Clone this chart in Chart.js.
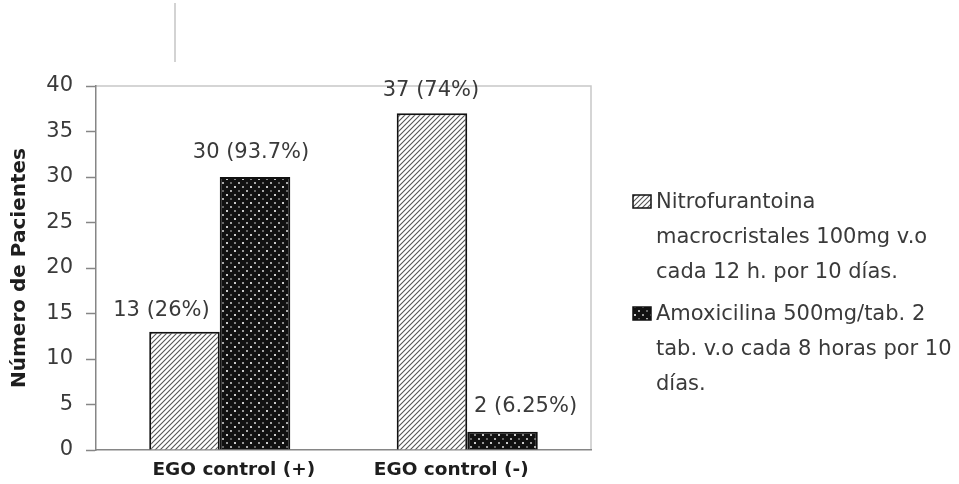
<!DOCTYPE html>
<html>
<head>
<meta charset="utf-8">
<script src="https://cdn.jsdelivr.net/npm/chart.js@4"></script>
<style>
    html, body { margin: 0; padding: 0; background: #fff; }
</style>
</head>
<body>
<canvas id="chart" width="959" height="484"></canvas>
<script>
// ================= DATA =================
const categories = ["EGO control (+)", "EGO control (-)"];
const nitrofurantoina = [13, 37];
const amoxicilina = [30, 2];
const nitroLabels = ["13 (26%)", "37 (74%)"];
const amoxLabels = ["30 (93.7%)", "2 (6.25%)"];
const nitroLegend = ["Nitrofurantoina", "macrocristales 100mg v.o", "cada 12 h. por 10 días."];
const amoxLegend = ["Amoxicilina 500mg/tab. 2", "tab. v.o cada 8 horas por 10", "días."];
const yTicks = [0, 5, 10, 15, 20, 25, 30, 35, 40];
const yTitle = "Número de Pacientes";

const FONT = "'DejaVu Sans', sans-serif";
const TEXT = "#3a3a3a";

// ================= PATTERNS =================
function hatchPattern() {
    const c = document.createElement("canvas");
    c.width = 5; c.height = 5;
    const g = c.getContext("2d");
    g.fillStyle = "#fff";
    g.fillRect(0, 0, 5, 5);
    g.strokeStyle = "#555";
    g.lineWidth = 1.1;
    g.beginPath();
    g.moveTo(-1, 6); g.lineTo(6, -1);
    g.moveTo(-1, 1); g.lineTo(1, -1);
    g.moveTo(4, 6); g.lineTo(6, 4);
    g.stroke();
    return g.createPattern(c, "repeat");
}

function dotPattern() {
    const c = document.createElement("canvas");
    c.width = 16; c.height = 16;
    const g = c.getContext("2d");
    g.fillStyle = "#111";
    g.fillRect(0, 0, 16, 16);
    const dots = [[2, 2, "#ccc"], [10, 2, "#888"], [6, 6, "#666"], [14, 6, "#aaa"],
                  [2, 10, "#999"], [10, 10, "#ccc"], [6, 14, "#aaa"], [14, 14, "#666"]];
    dots.forEach(d => { g.fillStyle = d[2]; g.fillRect(d[0], d[1], 2, 2); });
    return g.createPattern(c, "repeat");
}

const hatch = hatchPattern();
const dots = dotPattern();

// ================= PLUGINS =================
const frame = {
    id: "frame",
    beforeDraw(chart) {
        const { ctx, chartArea: a } = chart;
        ctx.save();
        ctx.strokeStyle = "#c8c8c8";
        ctx.lineWidth = 1.5;
        ctx.beginPath();
        ctx.moveTo(a.left, a.top);
        ctx.lineTo(a.right, a.top);
        ctx.lineTo(a.right, a.bottom);
        ctx.stroke();
        // stray line at the top of the scan
        ctx.strokeStyle = "#c4c4c4";
        ctx.beginPath();
        ctx.moveTo(175, 3);
        ctx.lineTo(175, 62);
        ctx.stroke();
        ctx.restore();
    }
};

const labelOffsets = [[[-23, 21], [-1, 23]], [[-4, 24], [23, 25]]];

const barLabels = {
    id: "barLabels",
    afterDatasetsDraw(chart) {
        const ctx = chart.ctx;
        const texts = [nitroLabels, amoxLabels];
        ctx.save();
        ctx.font = "21px " + FONT;
        ctx.fillStyle = TEXT;
        ctx.textAlign = "center";
        ctx.textBaseline = "middle";
        chart.data.datasets.forEach((ds, di) => {
            chart.getDatasetMeta(di).data.forEach((bar, i) => {
                const off = labelOffsets[di][i];
                ctx.fillText(texts[di][i], bar.x + off[0], bar.y - off[1]);
            });
        });
        ctx.restore();
    }
};

const catOffsets = [14, -16];

const catLabels = {
    id: "catLabels",
    afterDraw(chart) {
        const ctx = chart.ctx;
        const xs = chart.scales.x;
        ctx.save();
        ctx.font = "bold 18.5px " + FONT;
        ctx.fillStyle = "#1e1e1e";
        ctx.textAlign = "center";
        ctx.textBaseline = "middle";
        categories.forEach((c, i) => {
            ctx.fillText(c, xs.getPixelForValue(i) + catOffsets[i], 470);
        });
        ctx.restore();
    }
};

const sideLegend = {
    id: "sideLegend",
    afterDraw(chart) {
        const ctx = chart.ctx;
        const entries = [
            { fill: hatch, lines: nitroLegend, top: 208 },
            { fill: dots, lines: amoxLegend, top: 320 }
        ];
        ctx.save();
        ctx.font = "21px " + FONT;
        ctx.textAlign = "left";
        ctx.textBaseline = "alphabetic";
        entries.forEach(e => {
            ctx.fillStyle = e.fill;
            ctx.fillRect(633, e.top - 13, 18, 13);
            ctx.strokeStyle = "#111";
            ctx.lineWidth = 1.5;
            ctx.strokeRect(633, e.top - 13, 18, 13);
            ctx.fillStyle = TEXT;
            e.lines.forEach((t, k) => ctx.fillText(t, 656, e.top + k * 35));
        });
        ctx.restore();
    }
};

// ================= CHART =================
new Chart(document.getElementById("chart"), {
    type: "bar",
    data: {
        labels: categories,
        datasets: [
            {
                label: nitroLegend.join(" "),
                data: nitrofurantoina,
                backgroundColor: hatch,
                borderColor: "#111",
                borderWidth: 2
            },
            {
                label: amoxLegend.join(" "),
                data: amoxicilina,
                backgroundColor: dots,
                borderColor: "#111",
                borderWidth: 2
            }
        ]
    },
    options: {
        responsive: false,
        animation: false,
        categoryPercentage: 0.57,
        barPercentage: 1,
        layout: { padding: { top: 86, right: 368, left: 0, bottom: 0 } },
        plugins: {
            legend: { display: false },
            tooltip: { enabled: false }
        },
        scales: {
            x: {
                grid: { display: false },
                border: { color: "#868686", width: 1.5 },
                ticks: { display: false },
                afterFit: s => { s.height = 34; }
            },
            y: {
                min: yTicks[0],
                max: yTicks[yTicks.length - 1],
                afterBuildTicks: s => { s.ticks = yTicks.map(v => ({ value: v })); },
                ticks: { color: TEXT, font: { family: FONT, size: 21 }, padding: 13 },
                grid: { drawOnChartArea: false, tickLength: 10, tickColor: "#868686", tickWidth: 1.5 },
                border: { color: "#868686", width: 1.5 },
                title: {
                    display: true,
                    text: yTitle,
                    color: "#1e1e1e",
                    font: { family: FONT, size: 20, weight: "bold" },
                    padding: { top: 8, bottom: 0 }
                },
                afterFit: s => { s.width = 96; }
            }
        }
    },
    plugins: [frame, barLabels, catLabels, sideLegend]
});
</script>
</body>
</html>
